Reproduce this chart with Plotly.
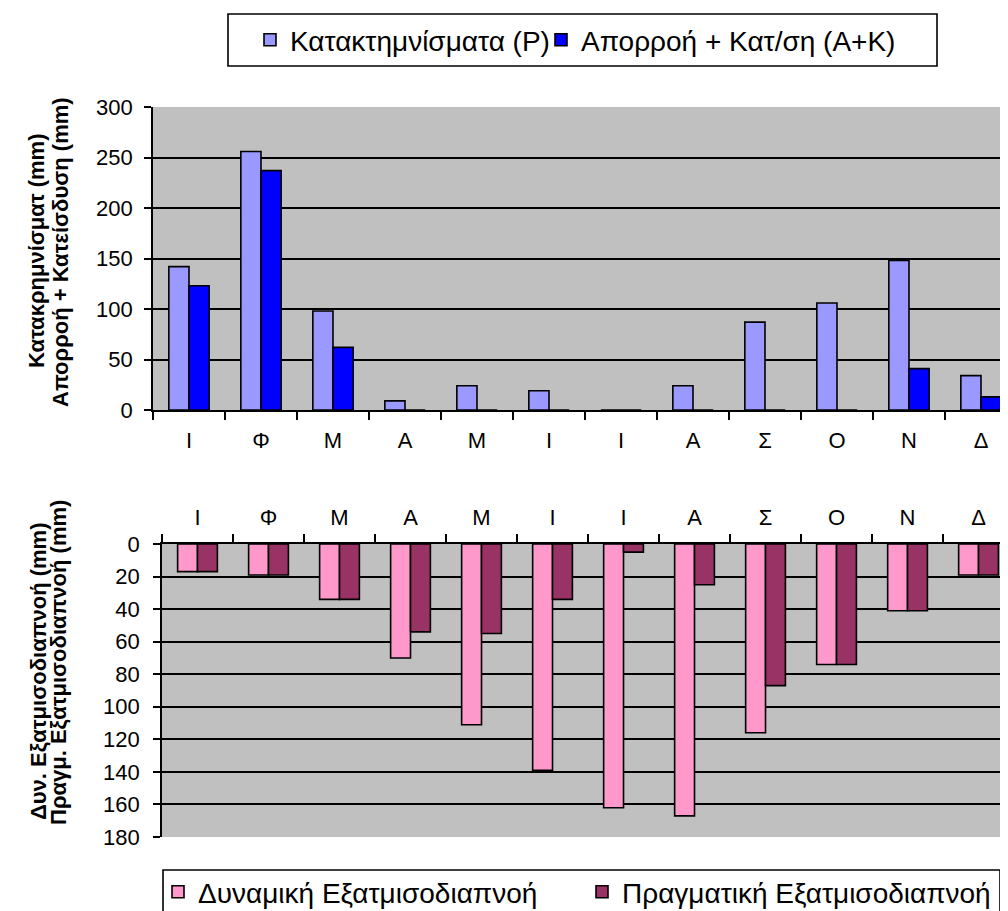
import plotly.graph_objects as go

months = ["Ι", "Φ", "Μ", "Α", "Μ", "Ι", "Ι", "Α", "Σ", "Ο", "Ν", "Δ"]
precip = [142, 256, 98, 9, 24, 19, 0, 24, 87, 106, 148, 34]
runoff_infil = [123, 237, 62, 0, 0, 0, 0, 0, 0, 0, 41, 13]
pot_et = [17, 19, 34, 70, 111, 139, 162, 167, 116, 74, 41, 19]
act_et = [17, 19, 34, 54, 55, 34, 5, 25, 87, 74, 41, 19]

top_ticks = [0, 50, 100, 150, 200, 250, 300]
bot_ticks = [0, 20, 40, 60, 80, 100, 120, 140, 160, 180]

# The page has an 8px body margin, so the figure is 1000x903 and placed at (8, 8)
OFF = 8
W, H = 1000, 903
FONT = "Liberation Sans, Arial, sans-serif"
xpos = list(range(len(months)))

def px(x):
    """page x pixel -> paper fraction"""
    return (x - OFF) / W

def py(y):
    """page y pixel -> paper fraction"""
    return 1 - (y - OFF) / H

fig = go.Figure()
line = dict(color="black", width=1.6)
fig.add_trace(go.Bar(x=xpos, y=precip, name="Κατακτημνίσματα (P)", marker=dict(color="#9999FF", line=line),
                     xaxis="x", yaxis="y", legend="legend"))
fig.add_trace(go.Bar(x=xpos, y=runoff_infil, name="Απορροή + Κατ/ση (Α+Κ)", marker=dict(color="#0000FF", line=line),
                     xaxis="x", yaxis="y", legend="legend3"))
fig.add_trace(go.Bar(x=xpos, y=pot_et, name="Δυναμική Εξατμισοδιαπνοή", marker=dict(color="#FF99CC", line=line),
                     xaxis="x2", yaxis="y2", legend="legend2"))
fig.add_trace(go.Bar(x=xpos, y=act_et, name="Πραγματική Εξατμισοδιαπνοή", marker=dict(color="#993366", line=line),
                     xaxis="x2", yaxis="y2", legend="legend4"))

tickfont = dict(family=FONT, size=22, color="black")
legfont = dict(family=FONT, size=28, color="black")

def leg(xpage, ypage):
    return dict(orientation="h", xref="container", yref="container",
                x=px(xpage), xanchor="left", y=py(ypage), yanchor="middle",
                bgcolor="rgba(0,0,0,0)", font=legfont, itemwidth=30)

fig.update_layout(
    width=W, height=H,
    margin=dict(l=0, r=0, t=0, b=0, autoexpand=False),
    paper_bgcolor="white",
    plot_bgcolor="#C0C0C0",
    barmode="group",
    bargap=0.44,
    bargroupgap=0,
    font=dict(family=FONT, size=18, color="black"),
    xaxis=dict(domain=[px(153), 1], anchor="y", range=[-0.5, 11.375],
               tickmode="array", tickvals=xpos, ticktext=months, ticks="", tickfont=tickfont,
               showline=True, linecolor="black", linewidth=1.6, showgrid=False, zeroline=False,
               ticklabelstandoff=10,
               minor=dict(tickmode="linear", tick0=-0.5, dtick=1, ticks="outside", ticklen=8,
                          tickcolor="black", tickwidth=1.6, showgrid=False)),
    yaxis=dict(domain=[py(410), py(107)], anchor="x", range=[0, 300],
               tickmode="array", tickvals=top_ticks, ticks="outside", ticklen=7, tickcolor="black", tickwidth=1.6,
               tickfont=tickfont, showline=True, linecolor="black", linewidth=1.6, ticklabelstandoff=7,
               showgrid=True, gridcolor="black", gridwidth=1.6, zeroline=False),
    xaxis2=dict(domain=[px(162), 1], anchor="y2", side="top", range=[-0.5, 11.415],
                tickmode="array", tickvals=xpos, ticktext=months, ticks="", tickfont=tickfont,
                showline=True, linecolor="black", linewidth=1.6, showgrid=False, zeroline=False,
                ticklabelstandoff=8,
                minor=dict(tickmode="linear", tick0=-0.5, dtick=1, ticks="outside", ticklen=8,
                           tickcolor="black", tickwidth=1.6, showgrid=False)),
    yaxis2=dict(domain=[py(837), py(544)], anchor="x2", range=[180, 0],
                tickmode="array", tickvals=bot_ticks, ticks="outside", ticklen=7, tickcolor="black", tickwidth=1.6,
                tickfont=tickfont, showline=True, linecolor="black", linewidth=1.6, ticklabelstandoff=9,
                showgrid=True, gridcolor="black", gridwidth=1.6, zeroline=False),
    legend=leg(250, 40),
    legend3=leg(541, 40),
    legend2=leg(158, 892),
    legend4=leg(582, 892),
    showlegend=True,
)

# legend frames
fig.add_shape(type="rect", xref="paper", yref="paper", x0=px(228), x1=px(937), y0=py(66), y1=py(14),
              line=dict(color="black", width=1.6), fillcolor="rgba(0,0,0,0)", layer="below")
fig.add_shape(type="rect", xref="paper", yref="paper", x0=px(163), x1=px(1000), y0=py(925), y1=py(870),
              line=dict(color="black", width=1.6), fillcolor="rgba(0,0,0,0)", layer="below")

# y axis titles (two lines each)
titles = [
    ("Κατακρημνίσματ (mm)", 36, 251),
    ("Απορροή + Κατείσδυση (mm)", 60, 252),
    ("Δυν. Εξατμισοδιαπνοή (mm)", 38, 671),
    ("Πραγμ. Εξατμισοδιαπνοή (mm)", 58, 663),
]
for txt, xx, yy in titles:
    fig.add_annotation(text="<b>" + txt + "</b>", xref="paper", yref="paper",
                       x=px(xx), y=py(yy), textangle=-90, showarrow=False,
                       font=dict(family=FONT, size=22, color="black"), xanchor="center", yanchor="middle")

fig.write_html("out.html")
